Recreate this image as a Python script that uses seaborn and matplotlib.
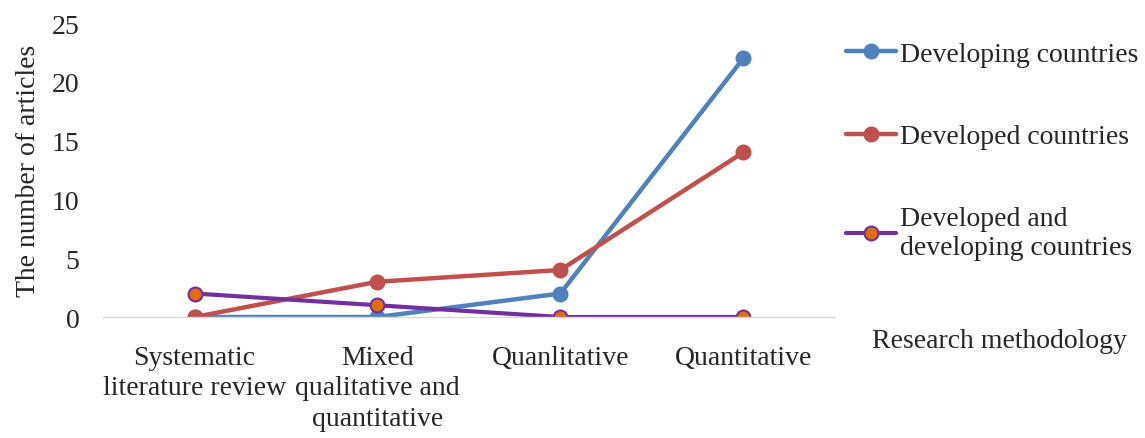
import matplotlib
matplotlib.use("Agg")
import matplotlib.pyplot as plt
import seaborn as sns
import pandas as pd

# Research methodology categories (x axis)
methods = [
    "Systematic\nliterature review",
    "Mixed\nqualitative and\nquantitative",
    "Quanlitative",
    "Quantitative",
]

# Number of articles per group
developing = [0, 0, 2, 22]
developed = [0, 3, 4, 14]
both = [2, 1, 0, 0]

series_names = [
    "Developing countries",
    "Developed countries",
    "Developed and\ndeveloping countries",
]
y_ticks = [0, 5, 10, 15, 20, 25]

sns.set_theme(style="white")
plt.rcParams["font.family"] = ["Liberation Serif", "DejaVu Serif"]

df = pd.DataFrame({
    "method": methods * 3,
    "count": developing + developed + both,
    "group": [series_names[0]] * 4 + [series_names[1]] * 4 + [series_names[2]] * 4,
})

styles = {
    series_names[0]: dict(color="#4f81bd", markerfacecolor="#4f81bd", markeredgecolor="#4f81bd", linewidth=3.2),
    series_names[1]: dict(color="#c0504d", markerfacecolor="#c0504d", markeredgecolor="#c0504d", linewidth=3.2),
    series_names[2]: dict(color="#7030a0", markerfacecolor="#e46c0a", markeredgecolor="#7030a0", linewidth=3.0),
}

FS = 20

fig = plt.figure(figsize=(11.45, 4.39), dpi=100)
ax = fig.add_axes([0.09, 0.2756, 0.639, 0.6694])

for name in series_names:
    sub = df[df["group"] == name]
    sns.lineplot(data=sub, x="method", y="count", ax=ax, label=name,
                 marker="o", markersize=10, markeredgewidth=1.5,
                 sort=False, **styles[name])

ax.set_xlim(-0.5, len(methods) - 0.5)
ax.set_ylim(0, 25)
ax.set_yticks(y_ticks)
ax.set_xticks(range(len(methods)))
ax.set_xticklabels(methods)
ax.tick_params(axis="both", labelsize=FS, length=0)
ax.tick_params(axis="x", pad=20)
ax.tick_params(axis="y", pad=17)
for lbl in ax.get_xticklabels():
    lbl.set_linespacing(1.3)

for side in ["top", "right", "left"]:
    ax.spines[side].set_visible(False)
ax.spines["bottom"].set_color("#d9d9d9")
ax.spines["bottom"].set_linewidth(1.0)
ax.set_xlabel("")
ax.set_ylabel("The number of articles", fontsize=FS, labelpad=8)

leg = ax.legend(loc="upper left", bbox_to_anchor=(1.0, 0.975), frameon=False,
                fontsize=FS, labelspacing=2.05, handlelength=1.8,
                handletextpad=0.15, borderaxespad=0.0)

fig.text(0.873, 0.222, "Research methodology", fontsize=FS, ha="center", va="center")

fig.savefig("out.png", dpi=100)
